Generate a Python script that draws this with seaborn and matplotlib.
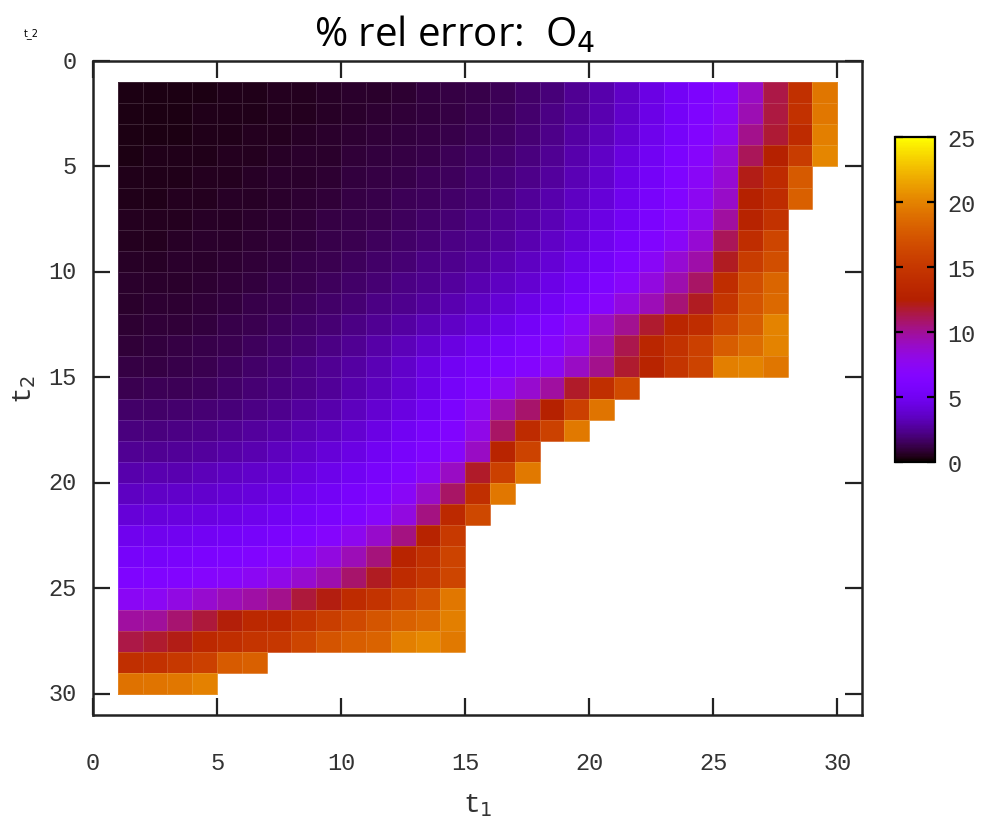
import numpy as np
import pandas as pd
import seaborn as sns
import matplotlib.pyplot as plt

# t1 / t2 grid (cell k spans [k, k+1])
t1_vals = list(range(1, 30))
t2_vals = list(range(1, 30))
ticks = [0, 5, 10, 15, 20, 25, 30]
cbar_ticks = [0, 5, 10, 15, 20, 25]

# % rel error, one list per t2 row, read left to right in t1
err_t2_01 = [0.33, 0.34, 0.36, 0.38, 0.41, 0.45, 0.5, 0.56, 0.63, 0.7, 0.78, 0.87, 0.98, 1.1,
             1.25, 1.45, 1.7, 2.05, 2.5, 3.0, 3.6, 4.4, 5.2, 6.0, 6.8, 9.0, 11.4, 14.3, 19.3]
err_t2_02 = [0.34, 0.35, 0.37, 0.40, 0.43, 0.47, 0.52, 0.58, 0.65, 0.73, 0.82, 0.92, 1.03, 1.16,
             1.32, 1.52, 1.8, 2.15, 2.6, 3.1, 3.7, 4.5, 5.3, 6.2, 7.2, 9.4, 11.5, 14.4, 19.4]
err_t2_03 = [0.36, 0.37, 0.39, 0.42, 0.46, 0.50, 0.56, 0.63, 0.70, 0.79, 0.88, 0.99, 1.11, 1.25,
             1.42, 1.64, 1.92, 2.3, 2.75, 3.3, 3.9, 4.7, 5.5, 6.5, 7.6, 10.2, 11.7, 13.8, 19.8]
err_t2_04 = [0.39, 0.40, 0.43, 0.47, 0.51, 0.56, 0.62, 0.70, 0.78, 0.88, 0.98, 1.1, 1.24, 1.4,
             1.58, 1.82, 2.1, 2.5, 3.0, 3.55, 4.2, 5.0, 5.9, 6.9, 8.4, 11.1, 12.6, 15.4, 20.2]
err_t2_05 = [0.42, 0.44, 0.47, 0.51, 0.56, 0.62, 0.69, 0.77, 0.87, 0.98, 1.1, 1.23, 1.38, 1.56,
             1.76, 2.0, 2.3, 2.7, 3.2, 3.8, 4.5, 5.3, 6.2, 7.3, 8.6, 12.2, 13.8, 17.6]
err_t2_06 = [0.46, 0.48, 0.51, 0.56, 0.62, 0.68, 0.76, 0.86, 0.97, 1.09, 1.22, 1.37, 1.54, 1.73,
             1.95, 2.2, 2.55, 2.95, 3.45, 4.1, 4.8, 5.6, 6.5, 7.6, 8.9, 12.6, 13.9, 18.0]
err_t2_07 = [0.51, 0.53, 0.57, 0.62, 0.68, 0.76, 0.85, 0.96, 1.08, 1.21, 1.36, 1.53, 1.72, 1.93,
             2.15, 2.45, 2.8, 3.2, 3.75, 4.4, 5.1, 5.9, 6.8, 7.8, 9.8, 12.8, 14.5]
err_t2_08 = [0.56, 0.58, 0.63, 0.69, 0.76, 0.85, 0.95, 1.07, 1.2, 1.35, 1.52, 1.71, 1.92, 2.15,
             2.4, 2.7, 3.1, 3.55, 4.1, 4.8, 5.6, 6.4, 7.3, 8.6, 11.1, 14.0, 16.2]
err_t2_09 = [0.62, 0.65, 0.70, 0.77, 0.85, 0.95, 1.07, 1.2, 1.35, 1.52, 1.71, 1.92, 2.15, 2.4,
             2.7, 3.05, 3.45, 3.95, 4.6, 5.3, 6.2, 7.3, 8.6, 9.6, 12.0, 15.4, 16.8]
err_t2_10 = [0.69, 0.72, 0.78, 0.86, 0.95, 1.06, 1.19, 1.34, 1.51, 1.7, 1.91, 2.15, 2.42, 2.72,
             3.05, 3.45, 3.9, 4.5, 5.2, 6.1, 7.0, 8.3, 9.5, 10.9, 14.0, 16.8, 18.3]
err_t2_11 = [0.77, 0.80, 0.87, 0.96, 1.06, 1.18, 1.33, 1.5, 1.69, 1.91, 2.15, 2.42, 2.73, 3.1,
             3.5, 3.95, 4.5, 5.1, 5.9, 6.9, 8.3, 9.3, 10.6, 12.0, 14.8, 17.2, 18.6]
err_t2_12 = [0.86, 0.90, 0.97, 1.07, 1.19, 1.33, 1.5, 1.69, 1.91, 2.16, 2.45, 2.78, 3.15, 3.6,
             4.05, 4.6, 5.3, 6.1, 7.3, 9.0, 10.1, 11.8, 13.2, 14.0, 16.3, 17.8, 20.0]
err_t2_13 = [0.96, 1.0, 1.09, 1.2, 1.34, 1.5, 1.69, 1.91, 2.17, 2.47, 2.85, 3.25, 3.75, 4.3,
             4.9, 5.5, 6.1, 6.8, 7.9, 9.6, 11.3, 13.2, 14.5, 15.8, 17.8, 18.8, 20.0]
err_t2_14 = [1.08, 1.13, 1.22, 1.35, 1.5, 1.68, 1.9, 2.15, 2.45, 2.8, 3.2, 3.7, 4.3, 5.0,
             5.6, 6.2, 6.7, 7.5, 9.0, 10.2, 11.8, 13.0, 14.8, 16.0, 19.8, 20.0, 19.3]
err_t2_15 = [1.35, 1.38, 1.45, 1.56, 1.7, 1.87, 2.08, 2.33, 2.63, 2.98, 3.4, 3.9, 4.5, 5.4,
             6.3, 7.6, 8.7, 9.8, 11.9, 14.2, 16.6]
err_t2_16 = [1.7, 1.73, 1.8, 1.91, 2.05, 2.22, 2.43, 2.7, 3.0, 3.38, 3.82, 4.35, 5.0, 5.9,
             7.5, 9.6, 10.8, 12.6, 15.8, 19.2]
err_t2_17 = [2.1, 2.13, 2.2, 2.31, 2.46, 2.64, 2.87, 3.15, 3.5, 3.9, 4.4, 5.0, 5.7, 6.4,
             8.0, 10.9, 13.8, 15.9, 19.5]
err_t2_18 = [2.5, 2.53, 2.61, 2.73, 2.9, 3.1, 3.35, 3.65, 4.02, 4.45, 5.0, 5.6, 6.3, 7.0,
             9.0, 13.0, 16.0]
err_t2_19 = [3.0, 3.03, 3.12, 3.25, 3.42, 3.63, 3.9, 4.22, 4.6, 5.05, 5.6, 6.3, 7.4, 9.0,
             11.9, 15.8, 19.5]
err_t2_20 = [3.5, 3.53, 3.62, 3.76, 3.94, 4.16, 4.44, 4.8, 5.2, 5.7, 6.3, 7.3, 8.9, 10.9,
             14.2, 19.4]
err_t2_21 = [4.1, 4.13, 4.22, 4.36, 4.55, 4.78, 5.06, 5.4, 5.8, 6.3, 7.0, 8.3, 10.4, 13.6, 16.4]
err_t2_22 = [4.8, 4.83, 4.93, 5.08, 5.28, 5.52, 5.8, 6.2, 6.8, 7.7, 8.8, 10.4, 12.8, 15.2]
err_t2_23 = [5.5, 5.55, 5.7, 5.9, 6.1, 6.4, 6.8, 7.4, 8.3, 9.3, 10.5, 13.0, 14.3, 16.0]
err_t2_24 = [6.2, 6.3, 6.5, 6.8, 7.1, 7.5, 8.0, 8.7, 9.5, 10.8, 12.0, 13.8, 14.8, 16.2]
err_t2_25 = [7.4, 7.5, 8.2, 8.7, 9.3, 9.7, 10.2, 11.6, 12.3, 13.8, 14.6, 16.0, 17.1, 19.4]
err_t2_26 = [9.8, 9.9, 10.7, 11.6, 12.4, 13.4, 13.5, 14.6, 15.6, 16.5, 17.3, 18.1, 18.6, 19.8]
err_t2_27 = [11.4, 11.8, 12.2, 13.5, 14.1, 14.7, 15.0, 16.2, 17.2, 17.9, 18.2, 19.8, 20.3, 19.5]
err_t2_28 = [14.2, 14.4, 15.1, 15.8, 17.7, 18.0]
err_t2_29 = [19.1, 19.2, 19.4, 19.9]

rows = [err_t2_01, err_t2_02, err_t2_03, err_t2_04, err_t2_05, err_t2_06, err_t2_07,
        err_t2_08, err_t2_09, err_t2_10, err_t2_11, err_t2_12, err_t2_13, err_t2_14,
        err_t2_15, err_t2_16, err_t2_17, err_t2_18, err_t2_19, err_t2_20, err_t2_21,
        err_t2_22, err_t2_23, err_t2_24, err_t2_25, err_t2_26, err_t2_27, err_t2_28,
        err_t2_29]

# 30x30 table, index/column 0 left empty so cell k sits on [k, k+1]
df = pd.DataFrame(np.nan, index=range(30), columns=range(30))
for t2, row in zip(t2_vals, rows):
    df.loc[t2, t1_vals[0]:t1_vals[len(row) - 1]] = row

mono = ['Liberation Mono', 'DejaVu Sans Mono']

fig = plt.figure(figsize=(9.96, 8.29), dpi=100)
ax = fig.add_axes([0.0934, 0.1363, 0.7721, 0.7889])
cax = fig.add_axes([0.8986, 0.4415, 0.0402, 0.392])

sns.heatmap(df, ax=ax, cbar_ax=cax, cmap='gnuplot', vmin=0, vmax=25,
            linewidths=0.5, linecolor=(1, 1, 1, 0.14))

ax.set_xlim(0, 31)
ax.set_ylim(31, 0)
ax.set_xticks(ticks)
ax.set_xticklabels([str(t) for t in ticks], rotation=0, family=mono, fontsize=17)
ax.set_yticks(ticks)
ax.set_yticklabels([str(t) for t in ticks], rotation=0, family=mono, fontsize=17)
ax.tick_params(direction='in', length=12, width=1.6, top=True, right=True,
               color='#222222', labelcolor='#333333')
ax.tick_params(axis='x', pad=26)
ax.tick_params(axis='y', pad=12)
for s in ax.spines.values():
    s.set_visible(True)
    s.set_linewidth(1.8)
    s.set_color('#222222')

ax.set_xlabel('t$_1$', family=mono, fontsize=20, color='#333333', labelpad=12)
ax.set_ylabel('t$_2$', family=mono, fontsize=20, color='#333333', labelpad=7)

cbar = ax.collections[0].colorbar
cbar.set_ticks(cbar_ticks)
cbar.ax.set_yticklabels([str(t) for t in cbar_ticks], family=mono, fontsize=17, color='#333333')
cbar.ax.tick_params(direction='in', length=6, width=1.6, left=True, right=True,
                    labelleft=False, labelright=True, pad=9)
cbar.outline.set_visible(True)
cbar.outline.set_linewidth(1.6)
cbar.outline.set_edgecolor('black')

fig.text(0.456, 0.957, '% rel error:  O$_4$', ha='center', va='center',
         fontsize=29, family=['Open Sans', 'DejaVu Sans'])
fig.text(0.031, 0.96, 't_2', ha='center', va='center', fontsize=7, family='DejaVu Sans')

fig.savefig('out.png', dpi=100)
